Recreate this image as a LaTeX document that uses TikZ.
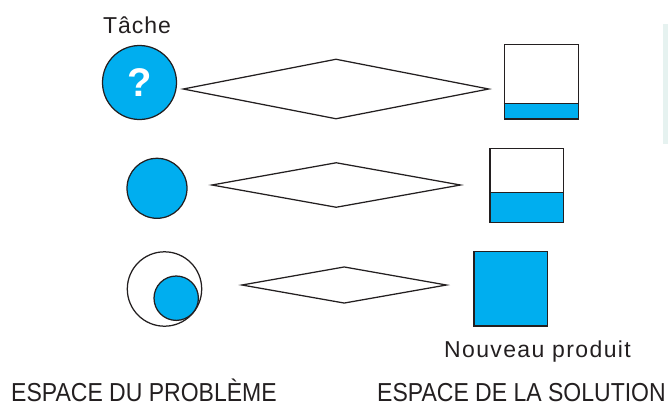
\documentclass[tikz,border=0pt]{standalone}
\usepackage{fontspec}
\setmainfont{Liberation Sans}
\newfontfamily\widesans[LetterSpace=6]{Liberation Sans}
\newfontfamily\midsans[LetterSpace=4]{Liberation Sans}
\usetikzlibrary{shapes.geometric}
\definecolor{cyanblue}{RGB}{0,174,239}
\definecolor{ink}{RGB}{35,31,32}
\definecolor{panel}{RGB}{230,242,240}
\newcommand{\narrowtext}[1]{\scalebox{0.885}[1]{#1}}
\tikzset{
  outline/.style={draw=ink, line width=1.25pt},
  ball/.style={outline, circle, inner sep=0pt},
  rhombus/.style={outline, diamond, inner sep=0pt, fill=white},
  box/.style={outline, rectangle, inner sep=0pt},
  label/.style={text=ink, inner sep=0pt},
  spacefont/.style={font=\fontsize{26}{28}\selectfont}
}
\begin{document}
\begin{tikzpicture}[x=1pt,y=-1pt]
\useasboundingbox (0,0) rectangle (668,405);
\fill[panel] (663,24) rectangle (668,144);
% problem side
\node[label, anchor=base, font=\midsans\fontsize{23}{25}\selectfont] (tache) at (137,33) {Tâche};
\node[ball, fill=cyanblue, minimum size=74pt] (c1) at (139.5,82.5) {};
\node[text=white, inner sep=0pt, font=\bfseries\fontsize{40}{40}\selectfont] (q) at (139.5,82.5) {?};
\node[ball, fill=cyanblue, minimum size=60pt] (c2) at (157,188.3) {};
\node[ball, fill=white, minimum size=74.4pt] (c3) at (164.5,289) {};
\node[ball, fill=cyanblue, minimum size=44.4pt] (c3i) at (176.2,298.2) {};
% diamonds
\node[rhombus, minimum width=306pt, minimum height=60pt] (d1) at (336,89) {};
\node[rhombus, minimum width=249pt, minimum height=45pt] (d2) at (336.2,185) {};
\node[rhombus, minimum width=205pt, minimum height=36.6pt] (d3) at (344.2,285) {};
% solution side
\fill[cyanblue] (504.3,103.7) rectangle (578.3,119);
\node[box, minimum width=74pt, minimum height=74.7pt] (s1) at (541.3,81.65) {};
\draw[outline] (s1.west |- 0,103.7) -- (s1.east |- 0,103.7);
\fill[cyanblue] (490,192.7) rectangle (563.3,222.7);
\node[box, minimum width=73.3pt, minimum height=74.4pt] (s2) at (526.65,185.5) {};
\draw[outline] (s2.west |- 0,192.7) -- (s2.east |- 0,192.7);
\node[box, fill=cyanblue, minimum width=73.3pt, minimum height=74.3pt] (s3) at (510.65,288.85) {};
% labels
\node[label, anchor=base, font=\widesans\fontsize{23}{25}\selectfont] (np) at (537.5,357.3) {Nouveau produit};
\node[label, anchor=base west, spacefont] (ep) at (11,401.7) {\narrowtext{ESPACE DU PROBLÈME}};
\node[label, anchor=base west, spacefont] (es) at (377,401.7) {\narrowtext{ESPACE DE LA SOLUTION}};
\end{tikzpicture}
\end{document}
